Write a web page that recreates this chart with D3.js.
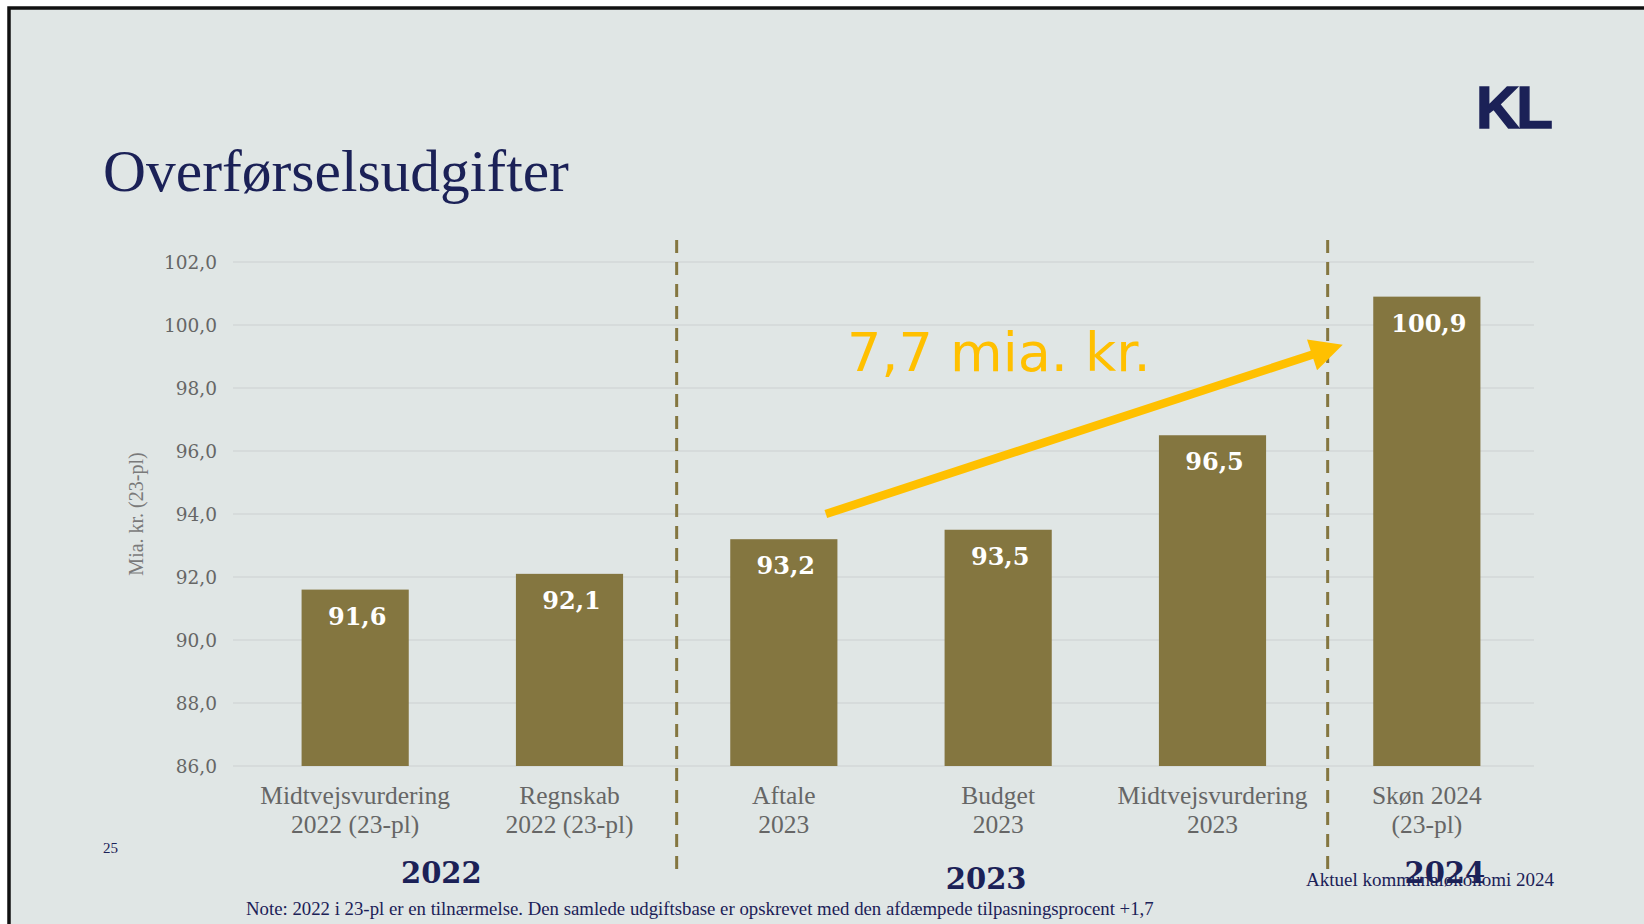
<!DOCTYPE html>
<html>
<head>
<meta charset="utf-8">
<script src="https://cdn.jsdelivr.net/npm/d3@7"></script>
<style>
  html, body { margin: 0; padding: 0; background: #fff; }
  svg { display: block; }
</style>
</head>
<body>
<svg id="viz"></svg>
<script>
// data
const categories = [
    ["Midtvejsvurdering", "2022 (23-pl)"],
    ["Regnskab", "2022 (23-pl)"],
    ["Aftale", "2023"],
    ["Budget", "2023"],
    ["Midtvejsvurdering", "2023"],
    ["Skøn 2024", "(23-pl)"]
];
const values = [91.6, 92.1, 93.2, 93.5, 96.5, 100.9];
const yTicks = [86, 88, 90, 92, 94, 96, 98, 100, 102];
const yearGroups = ["2022", "2023", "2024"];
const yearMembers = [[0, 1], [2, 3, 4], [5]];
const dividersAfter = [1, 4];
const arrowLabel = "7,7 mia. kr.";

const width = 1644;
const height = 924;
const margin = ({ top: 262, right: 110, bottom: 158, left: 248 });

const navy = "#1b2157";
const olive = "#847640";
const grey = "#666";

const svg = d3.select("#viz")
    .attr("width", width)
    .attr("height", height)
    .attr("viewBox", [0, 0, width, height]);

// slide background + frame
svg.append("rect")
    .attr("x", 9).attr("y", 8)
    .attr("width", width).attr("height", height)
    .attr("fill", "#e0e6e5")
    .attr("stroke", "#111")
    .attr("stroke-width", 3.5);

const xScale = d3.scaleBand()
    .domain(d3.range(values.length))
    .range([margin.left, width - margin.right])
    .paddingInner(0.5)
    .paddingOuter(0.25);

const yScale = d3.scaleLinear()
    .domain([86, 102])
    .range([height - margin.bottom, margin.top]);

// grid
svg.append("g")
    .selectAll("line")
    .data(yTicks)
    .join("line")
        .attr("x1", margin.left - 15)
        .attr("x2", width - margin.right)
        .attr("y1", d => yScale(d))
        .attr("y2", d => yScale(d))
        .attr("stroke", "#d3d7d7")
        .attr("stroke-width", 1.5);

const yAxis = svg.append("g")
    .attr("transform", `translate(${margin.left - 28},0)`)
    .call(d3.axisLeft(yScale).tickValues(yTicks).tickSize(0)
        .tickFormat(d => d3.format(".1f")(d).replace(".", ",")))
    .call(g => g.select(".domain").remove());

yAxis.selectAll("text")
    .attr("fill", grey)
    .attr("font-family", "'DejaVu Serif', serif")
    .attr("font-size", 18.5)
    .attr("dy", "0.35em");

svg.append("text")
    .attr("transform", `translate(143,${(yScale(86) + yScale(102)) / 2}) rotate(-90)`)
    .attr("text-anchor", "middle")
    .attr("fill", "#7a7a7a")
    .attr("font-family", "'Liberation Serif', serif")
    .attr("font-size", 20)
    .text("Mia. kr. (23-pl)");

// bars
svg.append("g")
    .selectAll("rect")
    .data(values)
    .join("rect")
        .attr("x", (d, i) => xScale(i))
        .attr("y", d => yScale(d))
        .attr("width", xScale.bandwidth())
        .attr("height", d => yScale(86) - yScale(d))
        .attr("fill", olive);

svg.append("g")
    .selectAll("text")
    .data(values)
    .join("text")
        .attr("x", (d, i) => xScale(i) + xScale.bandwidth() / 2 + 2)
        .attr("y", d => yScale(d) + 35)
        .attr("text-anchor", "middle")
        .attr("fill", "#fff")
        .attr("font-family", "'DejaVu Serif', serif")
        .attr("font-weight", "bold")
        .attr("font-size", 24)
        .text(d => d3.format(".1f")(d).replace(".", ","));

// category labels
const catG = svg.append("g")
    .selectAll("text")
    .data(categories)
    .join("text")
        .attr("x", (d, i) => xScale(i) + xScale.bandwidth() / 2)
        .attr("y", 804)
        .attr("text-anchor", "middle")
        .attr("fill", grey)
        .attr("font-family", "'Liberation Serif', serif")
        .attr("font-size", 25.5);

catG.selectAll("tspan")
    .data(d => d)
    .join("tspan")
        .attr("x", function () { return d3.select(this.parentNode).attr("x"); })
        .attr("dy", (d, i) => i === 0 ? 0 : 29)
        .text(d => d);

// dashed dividers between year groups
const step = xScale.step();
const dividerDx = [0, 8];
svg.append("g")
    .selectAll("line")
    .data(dividersAfter)
    .join("line")
        .attr("x1", (b, k) => xScale(b) + xScale.bandwidth() + (step - xScale.bandwidth()) / 2 + dividerDx[k])
        .attr("x2", (b, k) => xScale(b) + xScale.bandwidth() + (step - xScale.bandwidth()) / 2 + dividerDx[k])
        .attr("y1", 240)
        .attr("y2", 873)
        .attr("stroke", olive)
        .attr("stroke-width", 3)
        .attr("stroke-dasharray", "13 9");

// year group labels
const groupDx = [-21, -12, 18];
svg.append("g")
    .selectAll("text")
    .data(yearGroups)
    .join("text")
        .attr("x", (d, i) => d3.mean(yearMembers[i], j => xScale(j) + xScale.bandwidth() / 2) + groupDx[i])
        .attr("y", (d, i) => i === 1 ? 889 : 883)
        .attr("text-anchor", "middle")
        .attr("fill", navy)
        .attr("font-family", "'DejaVu Serif', serif")
        .attr("font-weight", "bold")
        .attr("font-size", 29)
        .text(d => d);

// arrow showing the increase
const defs = svg.append("defs");
defs.append("marker")
    .attr("id", "arrowhead")
    .attr("viewBox", "0 0 10 10")
    .attr("refX", 3)
    .attr("refY", 5)
    .attr("markerWidth", 4.4)
    .attr("markerHeight", 3.8)
    .attr("orient", "auto")
    .append("path")
        .attr("d", "M0,0 L10,5 L0,10 z")
        .attr("fill", "#ffc000");

svg.append("line")
    .attr("x1", xScale(2) + xScale.bandwidth() / 2 + 42)
    .attr("y1", yScale(94.0))
    .attr("x2", xScale(5) - 52)
    .attr("y2", yScale(99.15))
    .attr("stroke", "#ffc000")
    .attr("stroke-width", 8.5)
    .attr("marker-end", "url(#arrowhead)");

svg.append("text")
    .attr("x", 847)
    .attr("y", yScale(98.55))
    .attr("fill", "#ffc000")
    .attr("font-family", "'DejaVu Sans', sans-serif")
    .attr("font-size", 54)
    .text(arrowLabel);

// title, logo and footer texts
svg.append("text")
    .attr("x", 103)
    .attr("y", 191)
    .attr("fill", navy)
    .attr("font-family", "'Liberation Serif', serif")
    .attr("font-size", 59.5)
    .text("Overførselsudgifter");

svg.append("text")
    .attr("x", 1476)
    .attr("y", 128)
    .attr("fill", navy)
    .attr("stroke", navy)
    .attr("stroke-width", 1.5)
    .attr("font-family", "'Liberation Sans', sans-serif")
    .attr("font-weight", "bold")
    .attr("font-size", 60)
    .attr("letter-spacing", -3)
    .text("KL");

svg.append("text")
    .attr("x", 103)
    .attr("y", 853)
    .attr("fill", navy)
    .attr("font-family", "'Liberation Serif', serif")
    .attr("font-size", 15)
    .text("25");

svg.append("text")
    .attr("x", 1554)
    .attr("y", 886)
    .attr("text-anchor", "end")
    .attr("fill", navy)
    .attr("font-family", "'Liberation Serif', serif")
    .attr("font-size", 19)
    .text("Aktuel kommunaløkonomi 2024");

svg.append("text")
    .attr("x", 246)
    .attr("y", 915)
    .attr("fill", navy)
    .attr("font-family", "'Liberation Serif', serif")
    .attr("font-size", 18.8)
    .text("Note: 2022 i 23-pl er en tilnærmelse. Den samlede udgiftsbase er opskrevet med den afdæmpede tilpasningsprocent +1,7");
</script>
</body>
</html>
